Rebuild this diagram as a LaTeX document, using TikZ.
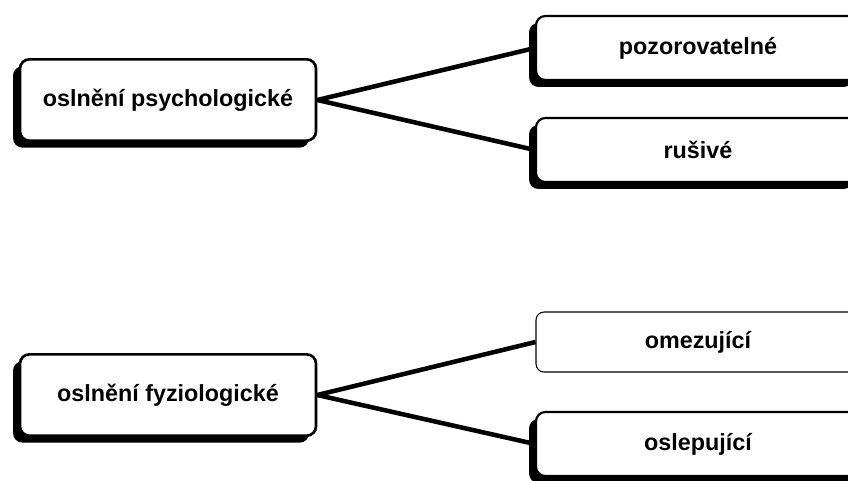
\documentclass[tikz,border=0pt]{standalone}
\usepackage{fontspec}
\setmainfont{Liberation Sans}
\usetikzlibrary{shadows}

\tikzset{
  kind/.style={draw=black, line width=2pt, fill=white, rounded corners=7pt,
    minimum width=222pt, minimum height=61pt, align=center,
    font=\bfseries\fontsize{17.5}{21}\selectfont,
    general shadow={fill=black, shadow xshift=-5.2pt, shadow yshift=-5.2pt}},
  sort/.style={draw=black, line width=1.6pt, fill=white, rounded corners=7pt,
    minimum width=243pt, minimum height=48pt, align=center,
    font=\bfseries\fontsize{17.5}{21}\selectfont,
    general shadow={fill=black, shadow xshift=-5.2pt, shadow yshift=-5.2pt}},
  sortplain/.style={draw=black, line width=0.8pt, fill=white, rounded corners=6pt,
    minimum width=243pt, minimum height=45pt, align=center,
    font=\bfseries\fontsize{17.5}{21}\selectfont},
  link/.style={draw=black, line width=3.4pt}
}

\begin{document}
\begin{tikzpicture}[x=0.75pt, y=-0.75pt]
				\useasboundingbox (0,0) rectangle (848,480);
				\clip (0,0) rectangle (848,480);
				
				% psychologicke
				\node[kind] (psych) at (168,100) {oslnění psychologické};
				\node[sort] (pozor) at (698,48) {pozorovatelné};
				\node[sort] (rusiv) at (698,150) {rušivé};
				\draw[link] (psych.east) -- (pozor.west);
				\draw[link] (psych.east) -- (rusiv.west);
				
				% fyziologicke
				\node[kind] (fyzio) at (168,395) {oslnění fyziologické};
				\node[sortplain] (omez) at (698,342) {omezující};
				\node[sort] (oslep) at (698,444) {oslepující};
				\draw[link] (fyzio.east) -- (omez.west);
				\draw[link] (fyzio.east) -- (oslep.west);
			\end{tikzpicture}
\end{document}
